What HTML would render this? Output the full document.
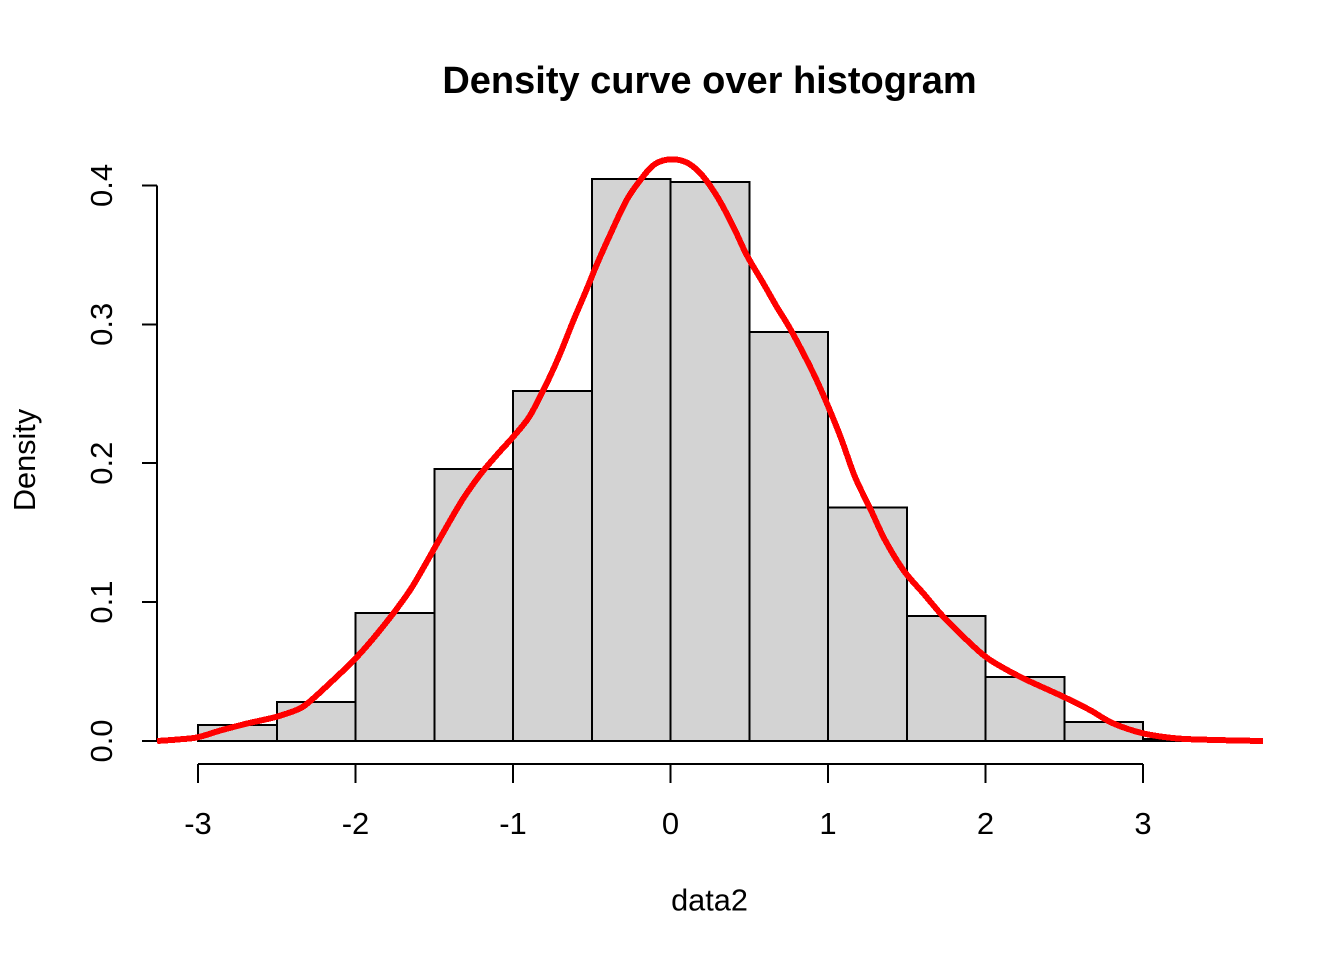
<!DOCTYPE html>
<html>
<head>
<meta charset="utf-8">
<title>Density curve over histogram</title>
<style>
html,body{margin:0;padding:0;background:#fff;}
svg{display:block;}
text{font-family:"Liberation Sans",Arial,sans-serif;fill:#000;}
</style>
</head>
<body>
<svg id="chart" width="1344" height="960" viewBox="0 0 1344 960" xmlns="http://www.w3.org/2000/svg">
<rect width="1344" height="960" fill="#fff"/>
<text x="709.5" y="93" text-anchor="middle" font-size="38" font-weight="bold">Density curve over histogram</text>
<text x="709.5" y="910.5" text-anchor="middle" font-size="30.7">data2</text>
<text transform="translate(35,460) rotate(-90)" text-anchor="middle" font-size="30.7">Density</text>
<g id="bars"></g>
<g id="xaxis"></g>
<g id="yaxis"></g>
<path id="curve" fill="none" stroke="#ff0000" stroke-width="6" stroke-linejoin="round" shape-rendering="crispEdges"/>
</svg>
<script>
const binEdges = [-3,-2.5,-2,-1.5,-1,-0.5,0,0.5,1,1.5,2,2.5,3,3.5];
const binDensities = [0.0115,0.028,0.092,0.196,0.252,0.4045,0.4025,0.2945,0.168,0.09,0.046,0.0135,0.0015];
const densityX = [-3.26,-3.114,-3,-2.86,-2.691,-2.5,-2.352,-2.268,-2.141,-2.003,-1.887,-1.76,-1.654,-1.57,-1.495,-1.4,-1.316,-1.21,-1.103,-0.998,-0.903,-0.839,-0.776,-0.702,-0.617,-0.543,-0.469,-0.384,-0.278,-0.183,-0.098,0.008,0.113,0.208,0.303,0.399,0.484,0.589,0.674,0.77,0.907,1.002,1.087,1.171,1.267,1.362,1.478,1.605,1.732,1.859,1.986,2.081,2.24,2.494,2.663,2.811,3.002,3.214,3.468,3.762];
const densityY = [0,0.0012,0.0027,0.0075,0.0125,0.0175,0.0235,0.0307,0.0439,0.059,0.0739,0.0919,0.1085,0.1245,0.1395,0.1585,0.1745,0.1915,0.2059,0.2191,0.2323,0.2455,0.2599,0.2785,0.3025,0.3223,0.3427,0.3643,0.3895,0.4051,0.4154,0.4188,0.4159,0.4063,0.3907,0.3703,0.3499,0.3295,0.3127,0.2947,0.2647,0.2407,0.2167,0.1903,0.1675,0.1447,0.1231,0.1063,0.0895,0.0751,0.0619,0.0547,0.0451,0.0319,0.0223,0.0127,0.0055,0.0019,0.0007,0];
const xTicks = [-3,-2,-1,0,1,2,3];
const yTicks = [0,0.1,0.2,0.3,0.4];
const yTickLabels = ["0.0","0.1","0.2","0.3","0.4"];

const NS = "http://www.w3.org/2000/svg";
const sx = v => 670.5 + 157.5 * v;
const sy = v => 741 - 1389 * v;
function mk(tag, attrs, parent) {
  const el = document.createElementNS(NS, tag);
  for (const k in attrs) el.setAttribute(k, attrs[k]);
  parent.appendChild(el);
  return el;
}
const barsG = document.getElementById("bars");
binDensities.forEach((d, i) => {
  const r = mk("rect", {x: sx(binEdges[i]), y: sy(d), width: sx(binEdges[i+1]) - sx(binEdges[i]), height: sy(0) - sy(d), fill: "#d3d3d3", stroke: "#000", "stroke-width": 2, "shape-rendering": "crispEdges"}, barsG);
  
  
});
const xG = document.getElementById("xaxis");
const xLine = mk("line", {x1: sx(xTicks[0]), x2: sx(xTicks[xTicks.length-1]), y1: 764, y2: 764, stroke: "#000", "stroke-width": 2, "shape-rendering": "crispEdges"}, xG);


xTicks.forEach(t => {
  const tick = mk("line", {x1: sx(t), x2: sx(t), y1: 764, y2: 783, stroke: "#000", "stroke-width": 2, "shape-rendering": "crispEdges"}, xG);
  
  
  const lab = mk("text", {x: sx(t), y: 834, "text-anchor": "middle", "font-size": 31}, xG);
  
  
  lab.textContent = String(t);
});
const yG = document.getElementById("yaxis");
const yLine = mk("line", {x1: 157, x2: 157, y1: sy(yTicks[0]), y2: sy(yTicks[yTicks.length-1]), stroke: "#000", "stroke-width": 2, "shape-rendering": "crispEdges"}, yG);


yTicks.forEach((t, i) => {
  const tick = mk("line", {x1: 142, x2: 157, y1: sy(t), y2: sy(t), stroke: "#000", "stroke-width": 2, "shape-rendering": "crispEdges"}, yG);
  
  
  const lab = mk("text", {transform: "translate(112," + sy(t) + ") rotate(-90)", "text-anchor": "middle", "font-size": 31}, yG);
  
  
  lab.textContent = yTickLabels[i];
});
// Catmull-Rom smoothing through the read density points
const px = densityX.map(sx), py = densityY.map(sy);
let d = "M" + px[0].toFixed(1) + " " + py[0].toFixed(1);
for (let i = 0; i < px.length - 1; i++) {
  const a = Math.max(i - 1, 0), b = Math.min(i + 2, px.length - 1);
  d += " C" + (px[i] + (px[i+1] - px[a]) / 6).toFixed(1) + " " + (py[i] + (py[i+1] - py[a]) / 6).toFixed(1) +
       " " + (px[i+1] - (px[b] - px[i]) / 6).toFixed(1) + " " + (py[i+1] - (py[b] - py[i]) / 6).toFixed(1) +
       " " + px[i+1].toFixed(1) + " " + py[i+1].toFixed(1);
}
document.getElementById("curve").setAttribute("d", d);
</script>
</body>
</html>
